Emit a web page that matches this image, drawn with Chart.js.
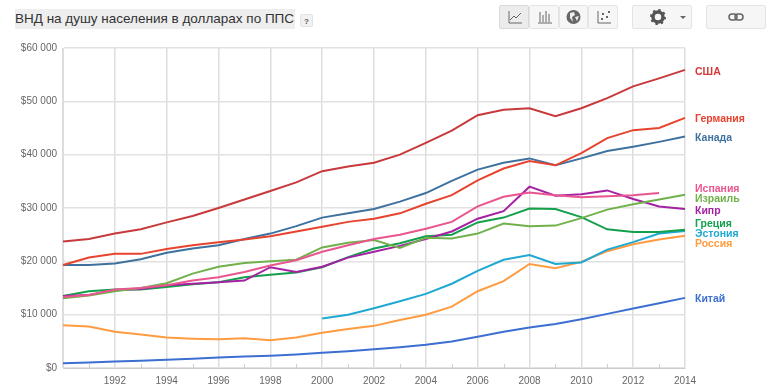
<!DOCTYPE html>
<html>
<head>
<meta charset="utf-8">
<script src="https://cdn.jsdelivr.net/npm/chart.js@4/dist/chart.umd.min.js"></script>
<style>
html, body { margin: 0; padding: 0; background: #fff; }
#wrap { position: relative; width: 770px; height: 388px; overflow: hidden; font-family: "Liberation Sans", sans-serif; }
canvas { position: absolute; left: 0; top: 0; }
#title { position: absolute; left: 15px; top: 9px; height: 20px; line-height: 20px; width: 280px; background: #eeeeee; color: #333; font-size: 13.5px; white-space: nowrap; }
#help { position: absolute; left: 300px; top: 14px; width: 13px; height: 13px; line-height: 13px; background: #f2f2f2; border: 1px solid #e2e2e2; box-sizing: border-box; color: #555; font-size: 8px; font-weight: bold; text-align: center; border-radius: 2px; }
.btn { position: absolute; top: 5px; height: 24px; box-sizing: border-box; background: #f6f6f6; border: 1px solid #e4e4e4; border-radius: 2px; }
.btn svg { position: absolute; left: 0; top: 0; }
</style>
</head>
<body>
<div id="wrap">
  <canvas id="chart" width="770" height="388"></canvas>
  <div id="title">ВНД на душу населения в долларах по ППС</div>
  <div id="help">?</div>
  <div class="btn" style="left:499px;width:30px;background:#ececec;border-color:#d8d8d8">
    <svg width="28" height="22" fill="none" stroke="#666" stroke-width="1"><path d="M9 5V17H22"/><path d="M10 14L14 10L16 12L21 7"/></svg>
  </div>
  <div class="btn" style="left:529px;width:30px">
    <svg width="28" height="22" fill="none" stroke="#666" stroke-width="1"><path d="M8 17H22M10 6V16M13 9V16M16 5V16M19 8V16"/></svg>
  </div>
  <div class="btn" style="left:559px;width:29px">
    <svg width="27" height="22"><circle cx="13.5" cy="11" r="7" fill="#666"/><path d="M10 7L14 6L15 9L12 11L13 16L10 12Z M15 11L19 10L17 15Z" fill="#eee"/></svg>
  </div>
  <div class="btn" style="left:588px;width:30px">
    <svg width="28" height="22" fill="none" stroke="#666" stroke-width="1"><path d="M9 5V17H22"/><path d="M13 8h2M17 11h2M12 13h2M19 6h2" stroke-width="2"/></svg>
  </div>
  <div class="btn" style="left:632px;width:60px">
    <svg width="58" height="22"><circle cx="25" cy="11" r="5" fill="none" stroke="#555" stroke-width="3.5"/><circle cx="25" cy="11" r="7" fill="none" stroke="#555" stroke-width="2" stroke-dasharray="2.5 3"/><path d="M47 10h6l-3 3z" fill="#666"/></svg>
  </div>
  <div class="btn" style="left:706px;width:60px">
    <svg width="58" height="22" fill="none" stroke="#666" stroke-width="1.5"><rect x="22" y="8" width="8" height="6" rx="3"/><rect x="28" y="8" width="8" height="6" rx="3"/></svg>
  </div>
</div>
<script>
const years = [1990, 1991, 1992, 1993, 1994, 1995, 1996, 1997, 1998, 1999, 2000, 2001, 2002, 2003, 2004, 2005, 2006, 2007, 2008, 2009, 2010, 2011, 2012, 2013, 2014];
const yTicks = [0, 10000, 20000, 30000, 40000, 50000, 60000];

const usa = [23700, 24200, 25200, 26000, 27300, 28500, 30000, 31600, 33200, 34800, 36900, 37800, 38500, 40000, 42200, 44500, 47400, 48400, 48700, 47200, 48700, 50600, 52800, 54300, 55900];
const germany = [19300, 20700, 21400, 21400, 22300, 23000, 23600, 24100, 24700, 25600, 26500, 27400, 28000, 29000, 30800, 32400, 35200, 37400, 38800, 38000, 40300, 43100, 44600, 45000, 46900];
const canada = [19300, 19300, 19600, 20400, 21600, 22400, 23000, 24200, 25200, 26600, 28200, 29000, 29800, 31200, 32800, 35100, 37200, 38500, 39300, 38000, 39300, 40700, 41500, 42400, 43400];
const spain = [13300, 13700, 14700, 15000, 15500, 16400, 17000, 18000, 19200, 20200, 21800, 23000, 24200, 25000, 26100, 27400, 30300, 32100, 32900, 32400, 32000, 32200, 32400, 32800, null];
const israel = [13100, 13600, 14400, 15000, 15900, 17700, 19000, 19700, 20000, 20300, 22600, 23500, 24000, 22500, 24400, 24300, 25200, 27100, 26600, 26700, 28100, 29700, 30700, 31600, 32500];
const cyprus = [13500, 13700, 14600, 14800, 15500, 15800, 16100, 16400, 18900, 18000, 19000, 20700, 21800, 22900, 24200, 25600, 28000, 29400, 34000, 32300, 32600, 33300, 31700, 30300, 29800];
const greece = [13500, 14400, 14700, 14700, 15200, 15700, 16100, 17000, 17500, 17900, 18900, 20800, 22400, 23400, 24700, 25000, 27300, 28200, 29900, 29800, 28300, 26000, 25500, 25500, 25900];
const estonia = [null, null, null, null, null, null, null, null, null, null, 9300, 10000, 11200, 12500, 13900, 15800, 18200, 20300, 21200, 19500, 19800, 22200, 23600, 25200, 25700];
const russia = [8000, 7800, 6800, 6300, 5700, 5500, 5400, 5600, 5200, 5700, 6600, 7300, 7900, 9000, 10000, 11500, 14400, 16300, 19500, 18700, 19900, 21900, 23200, 24100, 24800];
const china = [900, 1050, 1200, 1350, 1550, 1750, 1950, 2150, 2300, 2550, 2850, 3150, 3500, 3900, 4350, 4950, 5850, 6800, 7600, 8250, 9150, 10150, 11150, 12150, 13150];

const seriesNames = ['США', 'Германия', 'Канада', 'Испания', 'Израиль', 'Кипр', 'Греция', 'Эстония', 'Россия', 'Китай'];
const seriesValues = [usa, germany, canada, spain, israel, cyprus, greece, estonia, russia, china];
const seriesColors = ['#c8393b', '#e8432e', '#3f719f', '#e9558f', '#70b14b', '#a421a4', '#14a04c', '#1fa9d1', '#ff9b40', '#3c6fd1'];
const labelColors = ['#d5383a', '#e8432e', '#3f719f', '#e9558f', '#70b14b', '#a421a4', '#14a04c', '#1fa9d1', '#ff9b40', '#3c6fd1'];
// label heights on the right, nudged apart like the original
const labelY = [72, 119, 138, 189, 199, 211, 224, 234, 244, 299];

// odd years only get a short tick inside the plot, names at the right edge
const extras = {
    id: 'extras',
    afterDatasetsDraw(chart) {
        const ctx = chart.ctx;
        const x = chart.scales.x;
        const area = chart.chartArea;
        ctx.save();
        ctx.strokeStyle = '#cccccc';
        ctx.lineWidth = 1;
        years.forEach((year, i) => {
            if (year % 2 === 1) {
                const px = Math.round(x.getPixelForValue(i)) + 0.5;
                ctx.beginPath();
                ctx.moveTo(px, area.bottom - 4);
                ctx.lineTo(px, area.bottom);
                ctx.stroke();
            }
        });
        ctx.font = 'bold 10.5px "Liberation Sans"';
        ctx.textBaseline = 'middle';
        seriesNames.forEach((name, i) => {
            ctx.fillStyle = labelColors[i];
            ctx.fillText(name, 695, labelY[i]);
        });
        ctx.restore();
    }
};

new Chart(document.getElementById('chart').getContext('2d'), {
    type: 'line',
    data: {
        labels: years,
        datasets: seriesNames.map((name, i) => ({
            label: name,
            data: seriesValues[i],
            borderColor: seriesColors[i],
            borderWidth: 2,
            pointRadius: 0,
            tension: 0,
            spanGaps: false
        }))
    },
    options: {
        responsive: false,
        animation: false,
        layout: { padding: { left: 0, right: 85, top: 48, bottom: 0 } },
        plugins: { legend: { display: false }, tooltip: { enabled: false } },
        scales: {
            x: {
                type: 'category',
                offset: false,
                afterFit: axis => { axis.height = 20; },
                grid: {
                    drawTicks: false,
                    color: ctx => (years[ctx.index] % 2 === 0 ? '#dddddd' : 'transparent'),
                    lineWidth: 1.5
                },
                border: { color: '#cccccc' },
                ticks: {
                    autoSkip: false,
                    maxRotation: 0,
                    padding: 7,
                    color: '#666',
                    font: { family: '"Liberation Sans"', size: 10 },
                    callback: (v, i) => (years[i] % 2 === 0 && years[i] !== 1990 ? String(years[i]) : '')
                }
            },
            y: {
                min: 0,
                max: 60000,
                afterFit: axis => { axis.width = 63; },
                afterBuildTicks: axis => { axis.ticks = yTicks.map(v => ({ value: v })); },
                grid: { drawTicks: false, color: '#e2e2e2', lineWidth: 1.5 },
                border: { color: '#dddddd' },
                ticks: {
                    padding: 6,
                    color: '#666',
                    font: { family: '"Liberation Sans"', size: 10 },
                    callback: v => '$' + String(v).replace(/\B(?=(\d{3})+$)/g, ' ')
                }
            }
        }
    },
    plugins: [extras]
});
</script>
</body>
</html>
